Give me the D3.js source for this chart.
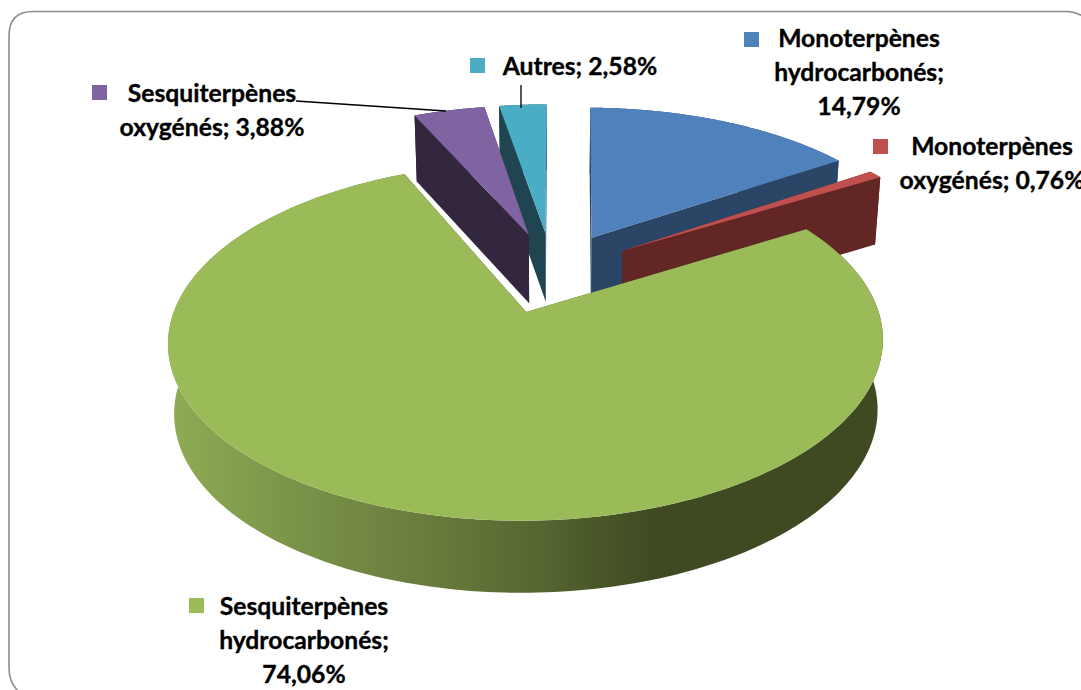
<!DOCTYPE html>
<html><head><meta charset="utf-8">
<script src="https://cdnjs.cloudflare.com/ajax/libs/d3/7.8.5/d3.min.js"></script>
<style>html,body{margin:0;padding:0;background:#fff;overflow:hidden}svg{display:block}</style>
</head><body><svg id="c" width="1081" height="690"></svg>
<script>
const categories=["Monoterpènes hydrocarbonés","Monoterpènes oxygénés","Sesquiterpènes hydrocarbonés","Sesquiterpènes oxygénés","Autres"];
const values=[14.79,0.76,74.06,3.88,2.58];
const valueLabels=["14,79%","0,76%","74,06%","3,88%","2,58%"];
const topColors=["#4f81bd","#c0504d","#9bbb59","#8064a2","#4bacc6"];
const wallColors=["#2a4565","#622625","#3f4a22","#33263f","#1f4650"];
const drawOrder=[0,1,4,3,2];
const rimStops=[[168,"#8fac55"],[300,"#7a9248"],[450,"#65783a"],[540,"#556630"],[650,"#3f4a22"],[882,"#3f4a22"]];
const labels=[
 {lines:["Monoterpènes","hydrocarbonés;","14,79%"],cx:859,y:47,key:[744,32]},
 {lines:["Monoterpènes","oxygénés; 0,76%"],cx:992,y:155,key:[873,139]},
 {lines:["Sesquiterpènes","hydrocarbonés;","74,06%"],cx:304,y:615,key:[189,598]},
 {lines:["Sesquiterpènes","oxygénés; 3,88%"],cx:212,y:102,key:[92,85]},
 {lines:["Autres; 2,58%"],cx:580,y:75,key:[470,58]}
];
const svg=d3.select("#c");
const W={cx:552.5,cy:272,R:339,S:161,k:0.16,D:69,dk:0.036,E:0.25,g:0.016};
const sx=d3.scaleLinear().domain([0,1]).range([W.cx,W.cx+W.R]);
const sy=d3.scaleLinear().domain([0,1]).range([W.cy,W.cy+W.S]);
function proj(u,v,h){const s=1/(1-W.k*v);return [sx(u*s*(1-W.g*h)),sy(v*s)+W.D*(1+W.dk*v)*h];}
const arcs=d3.pie().sort(null).value(d=>d).startAngle(0.8*Math.PI/180).endAngle(2*Math.PI)(values);
const line=d3.line();
const defs=svg.append("defs");
const grad=defs.append("linearGradient").attr("id","rim").attr("gradientUnits","userSpaceOnUse").attr("x1",168).attr("x2",882).attr("y1",0).attr("y2",0);
rimStops.forEach(s=>grad.append("stop").attr("offset",(s[0]-168)/714).attr("stop-color",s[1]));
// frame
svg.append("path").attr("d","M18 691 Q9 682 9 668 L9 36 Q9 11.5 33 11.5 L1068 11.5 Q1075 12 1083 16").attr("fill","none").attr("stroke","#8c8c8c").attr("stroke-width",1.6);
drawOrder.forEach(i=>{
 const a=arcs[i];
 const mid=(a.startAngle+a.endAngle)/2;
 const ou=W.E*Math.sin(mid),ov=-W.E*Math.cos(mid);
 const pt=(t,r,h)=>proj(ou+r*Math.sin(t),ov-r*Math.cos(t),h);
 const ts=d3.range(0,241).map(j=>a.startAngle+(a.endAngle-a.startAngle)*j/240);
 const g=svg.append("g");
 const wall=i===2?"url(#rim)":wallColors[i];
 [a.startAngle,a.endAngle].forEach(t=>{
  g.append("path").attr("d",line([pt(t,0,0),pt(t,1,0),pt(t,1,1),pt(t,0,1)])+"Z").attr("fill",wallColors[i]);
 });
 const rim=ts.map(t=>pt(t,1,0)).concat(ts.slice().reverse().map(t=>pt(t,1,1)));
 g.append("path").attr("d",line(rim)+"Z").attr("fill",wall);
 const top=[pt(0,0,0)].concat(ts.map(t=>pt(t,1,0)));
 g.append("path").attr("d",line(top)+"Z").attr("fill",topColors[i]);
});
// leader lines
svg.append("line").attr("x1",296).attr("y1",101).attr("x2",446).attr("y2",111).attr("stroke","#000").attr("stroke-width",1.3);
svg.append("line").attr("x1",521).attr("y1",85).attr("x2",521).attr("y2",108).attr("stroke","#000").attr("stroke-width",1.3);
// labels
labels.forEach((l,i)=>{
 svg.append("rect").attr("x",l.key[0]).attr("y",l.key[1]).attr("width",15).attr("height",15).attr("fill",topColors[i]);
 const t=svg.append("text").attr("font-family","Lato, 'Open Sans', sans-serif").attr("font-weight",700).attr("font-size",24.7).attr("fill","#000").attr("stroke","#000").attr("stroke-width",0.35).attr("text-anchor","middle");
 l.lines.forEach((s,j)=>t.append("tspan").attr("x",l.cx).attr("y",l.y+j*34).text(s));
});
</script></body></html>
